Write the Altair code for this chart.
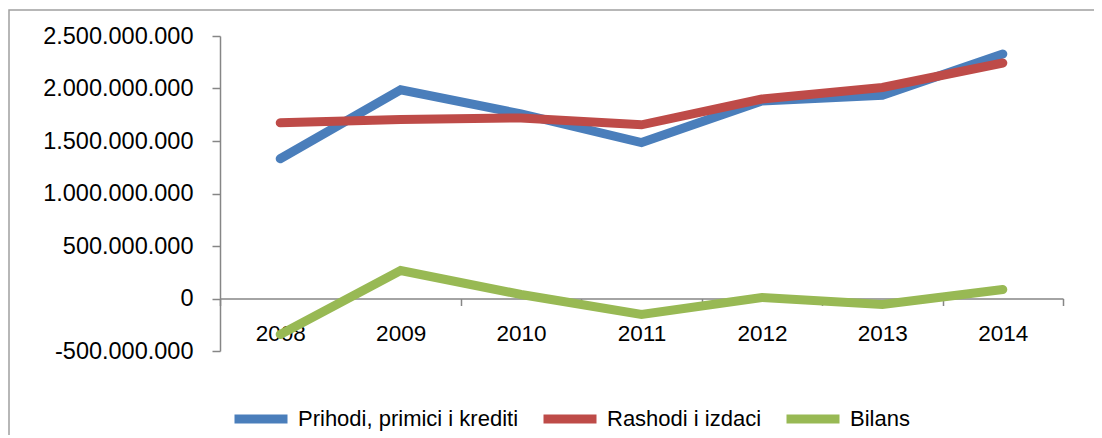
import altair as alt
import pandas as pd

years = ["2008", "2009", "2010", "2011", "2012", "2013", "2014"]
series_names = ["Prihodi, primici i krediti", "Rashodi i izdaci", "Bilans"]
prihodi = [1331e6, 1987e6, 1758e6, 1485e6, 1882e6, 1935e6, 2329e6]
rashodi = [1673e6, 1705e6, 1720e6, 1654e6, 1900e6, 2010e6, 2243e6]
bilans = [-342e6, 266e6, 38e6, -152e6, 10e6, -57e6, 86e6]
colors = ["#4A7EBB", "#BE4B48", "#98B954"]
y_ticks = [-500e6, 0, 500e6, 1000e6, 1500e6, 2000e6, 2500e6]

rows = []
for name, vals in zip(series_names, [prihodi, rashodi, bilans]):
    for i, (yr, v) in enumerate(zip(years, vals)):
        rows.append({"year": yr, "value": v, "series": name})
df = pd.DataFrame(rows)

FONT = "Liberation Sans"
AXIS_GRAY = "#868686"

lines = alt.Chart(df).mark_line(strokeWidth=9, strokeCap="round", strokeJoin="miter").encode(
    x=alt.X("year:O", sort=years,
            scale=alt.Scale(paddingInner=0, paddingOuter=0),
            axis=alt.Axis(title=None, labelAngle=0, offset=-52.5, tickBand="extent",
                          domainColor=AXIS_GRAY, domainWidth=1.5, tickColor=AXIS_GRAY,
                          tickWidth=1.5, tickSize=7, labelPadding=17,
                          labelFont=FONT, labelFontSize=22.5, labelColor="black")),
    y=alt.Y("value:Q",
            scale=alt.Scale(domain=[-500e6, 2500e6], nice=False, zero=False),
            axis=alt.Axis(title=None, values=y_ticks, grid=False,
                          labelExpr="replace(replace(format(datum.value, ','), regexp(',', 'g'), '.'), regexp('\u2212', 'g'), '-')",
                          domainColor=AXIS_GRAY, domainWidth=1.5, tickColor=AXIS_GRAY,
                          tickWidth=1.5, tickSize=8, labelPadding=19,
                          labelFont=FONT, labelFontSize=23.5, labelColor="black")),
    color=alt.Color("series:N",
                    scale=alt.Scale(domain=series_names, range=colors),
                    legend=alt.Legend(orient="none", legendX=10, legendY=352,
                                      direction="horizontal", title=None,
                                      symbolType="stroke", symbolStrokeWidth=9,
                                      symbolSize=2809, labelFont=FONT,
                                      labelFontSize=22, labelLimit=400,
                                      labelOffset=6, columnPadding=6,
                                      labelColor="black")),
    order=alt.Order("year:O"),
)

border = alt.Chart(pd.DataFrame({"k": [0]})).mark_rect(
    fill=None, stroke="#A0A0A0", strokeWidth=1.5
).encode(
    x=alt.value(-211), x2=alt.value(1000), y=alt.value(-26), y2=alt.value(500)
)

chart = alt.layer(border, lines).properties(
    width=843, height=315,
    autosize=alt.AutoSizeParams(type="none"),
    padding={"left": 212, "top": 28, "right": 31, "bottom": 84},
).configure_view(stroke=None)

chart.save("out.html", embed_options={"renderer": "svg", "actions": False})
